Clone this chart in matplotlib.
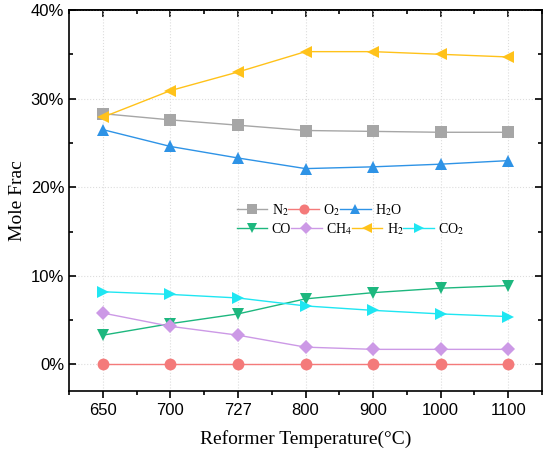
import matplotlib
matplotlib.use('Agg')
import matplotlib.pyplot as plt
from matplotlib.ticker import FuncFormatter, MultipleLocator

# data (mole fraction, %)
temps = ['650', '700', '727', '800', '900', '1000', '1100']
n2 = [28.3, 27.6, 27.0, 26.4, 26.3, 26.2, 26.2]
o2 = [0.0, 0.0, 0.0, 0.0, 0.0, 0.0, 0.0]
h2o = [26.5, 24.6, 23.3, 22.1, 22.3, 22.6, 23.0]
co = [3.3, 4.6, 5.7, 7.4, 8.1, 8.6, 8.9]
ch4 = [5.8, 4.3, 3.3, 1.95, 1.7, 1.7, 1.7]
h2 = [27.9, 30.9, 33.0, 35.3, 35.3, 35.0, 34.7]
co2 = [8.2, 7.9, 7.5, 6.6, 6.1, 5.7, 5.4]

serif = ['Liberation Serif', 'DejaVu Serif']
sans = ['Liberation Sans', 'DejaVu Sans']
plt.rcParams['font.family'] = sans
plt.rcParams['mathtext.fontset'] = 'stix'

fig = plt.figure(figsize=(5.5, 4.58), dpi=100)
ax = fig.add_axes([69 / 550, 1 - 391 / 458, 473 / 550, 381 / 458])

x = list(range(len(temps)))
series = [
    (n2, 's', '#A6A6A6', 'N$_2$'),
    (o2, 'o', '#F47A7A', 'O$_2$'),
    (h2o, '^', '#2E93E6', 'H$_2$O'),
    (co, 'v', '#1DB77E', 'CO'),
    (ch4, 'D', '#CC99E6', 'CH$_4$'),
    (h2, '<', '#FFC21A', 'H$_2$'),
    (co2, '>', '#1FE6F2', 'CO$_2$'),
]
handles = []
for vals, mk, col, lab in series:
    ms = 7 if mk == 'D' else 8.5
    h, = ax.plot(x, vals, marker=mk, color=col, lw=1.0, ms=ms,
                 markeredgewidth=0, label=lab, zorder=3)
    handles.append(h)

ax.set_xlim(-0.5, 6.5)
ax.set_ylim(-3, 40)
ax.set_xticks(x)
ax.set_xticklabels(temps)
ax.xaxis.set_minor_locator(MultipleLocator(0.5))
ax.yaxis.set_major_locator(MultipleLocator(10))
ax.yaxis.set_minor_locator(MultipleLocator(5))
ax.yaxis.set_major_formatter(FuncFormatter(lambda v, p: f'{v:.0f}%'))

ax.grid(True, which='major', color='#DDDDDD', ls=':', lw=0.8, zorder=0)
for s in ax.spines.values():
    s.set_linewidth(1.2)

ax.tick_params(axis='x', which='both', direction='out', width=1.2)
ax.tick_params(axis='y', which='both', direction='in', right=True, width=1.2)
ax.tick_params(which='major', length=5, labelsize=12)
ax.tick_params(which='minor', length=3)

# top ticks pointing inward, no labels
top = ax.secondary_xaxis('top')
top.set_xticks(x)
top.xaxis.set_minor_locator(MultipleLocator(0.5))
top.tick_params(which='both', direction='in', width=1.2, labeltop=False)
top.tick_params(which='major', length=5)
top.tick_params(which='minor', length=3)
top.spines['top'].set_linewidth(1.2)

ax.set_xlabel('Reformer Temperature(°C)', family=serif, fontsize=14, labelpad=9)
ax.set_ylabel('Mole Frac', family=serif, fontsize=14, labelpad=3)

leg_kw = dict(frameon=False, prop={'family': serif, 'size': 10}, handlelength=2.2,
              handletextpad=0.3, columnspacing=0.0, borderpad=0, borderaxespad=0,
              loc='center left', markerscale=0.85)
leg1 = ax.legend(handles=handles[:3], ncol=3, bbox_to_anchor=(0.355, 0.475), **leg_kw)
ax.add_artist(leg1)
ax.legend(handles=handles[3:], ncol=4, bbox_to_anchor=(0.355, 0.425), **leg_kw)

fig.savefig('out.png', dpi=100)
